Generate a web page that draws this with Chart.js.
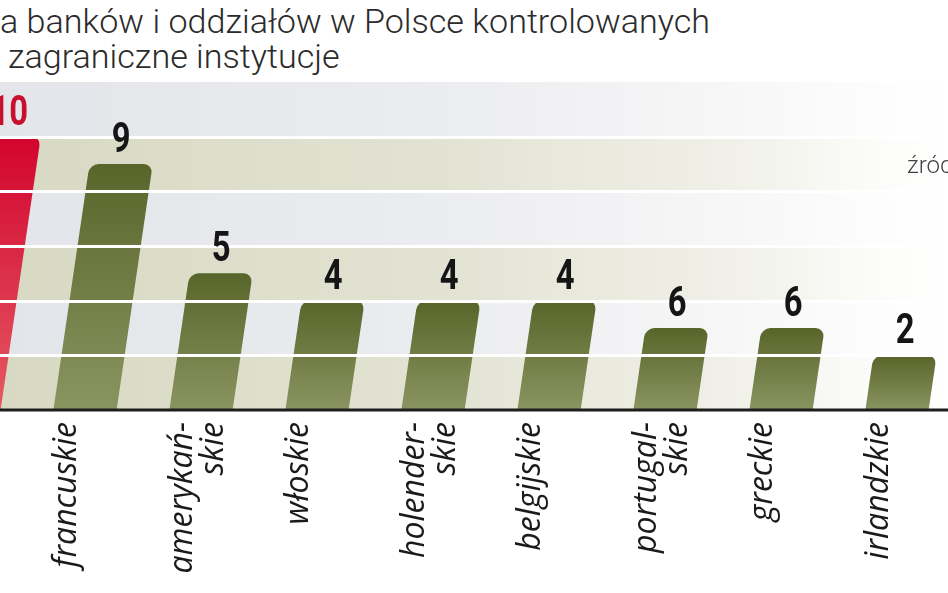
<!DOCTYPE html>
<html>
<head>
<meta charset="utf-8">
<script src="https://cdn.jsdelivr.net/npm/chart.js@4.4.1/dist/chart.umd.min.js"></script>
<style>
  html, body { margin: 0; padding: 0; background: #fff; }
  body { width: 948px; height: 593px; overflow: hidden; position: relative; }
  .title { position: absolute; font-family: Roboto, sans-serif; font-weight: 300; font-size: 34px;
           line-height: 34px; color: #2b2b2b; white-space: nowrap; transform-origin: 0 0; }
  #src { position: absolute; left: 907px; top: 153px; font-family: Roboto, sans-serif; font-weight: 300;
         font-size: 24px; line-height: 24px; color: #444; white-space: nowrap; }
  #wrap { position: absolute; left: -89px; top: 0; width: 1044px; height: 593px; }
</style>
</head>
<body>
<div class="title" id="t1">a banków i oddziałów w Polsce kontrolowanych</div>
<div class="title" id="t2">z zagraniczne instytucje</div>
<div id="wrap"><canvas id="bankChart"></canvas></div>
<div id="src">źródło</div>
<script>
// Categories (first one is cut off at the left edge)
const categories = ['niemieckie', 'francuskie', ['amerykań-', 'skie'], 'włoskie', ['holender-', 'skie'],
  'belgijskie', ['portugal-', 'skie'], 'greckie', 'irlandzkie'];
// bar heights
const barHeights = [5.0, 4.5, 2.5, 2.0, 2.0, 2.0, 1.5, 1.5, 1.0];
// numbers printed above the bars
const barLabels = ['10', '9', '5', '4', '4', '4', '6', '6', '2'];
const bandTicks = [0, 1, 2, 3, 4, 5, 6];

const SKEW = 0.147;

// Title: condensed look by horizontal scaling
const t1 = document.getElementById('t1');
const t2 = document.getElementById('t2');
t1.style.top = '4px';
t2.style.top = '39px';
const sx = 710 / t1.getBoundingClientRect().width;
t1.style.left = '0px';
t1.style.transform = `scaleX(${sx})`;
const w2 = t2.getBoundingClientRect().width * sx;
t2.style.left = (340 - w2) + 'px';
t2.style.transform = `scaleX(${sx})`;
const src = document.getElementById('src');
src.style.transform = `scaleX(${sx})`;
src.style.transformOrigin = '0 0';

function barFill(c) {
  const chart = c.chart;
  if (!chart.chartArea) return '#66702f';
  const y = chart.scales.y;
  const top = y.getPixelForValue(barHeights[c.dataIndex]);
  const base = y.getPixelForValue(0);
  const g = chart.ctx.createLinearGradient(0, top, 0, base);
  if (c.dataIndex === 0) {
    g.addColorStop(0, '#d3042f');
    g.addColorStop(1, '#e45a62');
  } else {
    g.addColorStop(0, '#58652a');
    g.addColorStop(1, '#8a9460');
  }
  return g;
}

const decor = {
  id: 'decor',
  beforeDraw(chart) {
    const { ctx, chartArea } = chart;
    const y = chart.scales.y;
    const off = 89;
    for (let i = 0; i < bandTicks.length - 1; i++) {
      const yb = y.getPixelForValue(bandTicks[i]);
      const yt = y.getPixelForValue(bandTicks[i + 1]);
      const g = ctx.createLinearGradient(off, 0, off + 948, 0);
      if (i % 2 === 0) {
        g.addColorStop(0, '#d8d9c3');
        g.addColorStop(0.45, '#e2e2d2');
        g.addColorStop(0.75, '#efefe7');
        g.addColorStop(0.93, '#fcfcfa');
        g.addColorStop(1, '#ffffff');
      } else {
        g.addColorStop(0, '#e3e5ea');
        g.addColorStop(0.45, '#ebecef');
        g.addColorStop(0.75, '#f6f6f7');
        g.addColorStop(0.93, '#fdfdfd');
        g.addColorStop(1, '#ffffff');
      }
      ctx.fillStyle = g;
      ctx.fillRect(chartArea.left, yt, chartArea.right - chartArea.left, yb - yt);
    }
  },
  beforeDatasetsDraw(chart) {
    const { ctx } = chart;
    const base = chart.scales.y.getPixelForValue(0);
    ctx.save();
    ctx.transform(1, 0, -SKEW, 1, SKEW * base, 0);
  },
  afterDatasetsDraw(chart) {
    const { ctx, chartArea } = chart;
    ctx.restore();
    const y = chart.scales.y;
    const base = y.getPixelForValue(0);
    // white lines across bands and bars
    ctx.save();
    ctx.strokeStyle = '#ffffff';
    ctx.lineWidth = 3;
    for (let i = 1; i < bandTicks.length - 1; i++) {
      const py = Math.round(y.getPixelForValue(bandTicks[i])) + 0.5;
      ctx.beginPath();
      ctx.moveTo(chartArea.left, py);
      ctx.lineTo(chartArea.right, py);
      ctx.stroke();
    }
    // baseline
    ctx.strokeStyle = '#1e1e1e';
    ctx.lineWidth = 3;
    ctx.beginPath();
    ctx.moveTo(chartArea.left, base);
    ctx.lineTo(chartArea.right, base);
    ctx.stroke();
    // numbers above bars
    const meta = chart.getDatasetMeta(0);
    ctx.textAlign = 'center';
    ctx.textBaseline = 'alphabetic';
    ctx.font = 'bold 42px Roboto, sans-serif';
    meta.data.forEach((bar, i) => {
      const top = bar.y;
      const cx = bar.x + SKEW * (base - top);
      ctx.save();
      ctx.translate(cx, top - 12);
      ctx.scale(0.78, 1);
      ctx.fillStyle = i === 0 ? '#c8102e' : '#151515';
      ctx.fillText(barLabels[i], 0, 0);
      ctx.restore();
    });
    ctx.restore();
  }
};

new Chart(document.getElementById('bankChart'), {
  type: 'bar',
  data: {
    labels: categories,
    datasets: [{
      data: barHeights,
      backgroundColor: barFill,
      borderSkipped: 'bottom',
      borderRadius: { topLeft: 9, topRight: 9 },
      categoryPercentage: 1,
      barPercentage: 0.545,
      clip: false
    }]
  },
  options: {
    responsive: true,
    maintainAspectRatio: false,
    animation: false,
    layout: { padding: { top: 82, left: 0, right: 0, bottom: 0 } },
    plugins: { legend: { display: false }, tooltip: { enabled: false } },
    scales: {
      x: {
        grid: { display: false },
        border: { display: false },
        ticks: {
          maxRotation: 90,
          minRotation: 90,
          padding: 4,
          labelOffset: -18,
          color: '#1a1a1a',
          font: { family: 'Open Sans', style: 'italic', size: 32, lineHeight: 0.95 }
        },
        afterFit(axis) { axis.height = 183; }
      },
      y: {
        display: false,
        min: 0,
        max: 6
      }
    }
  },
  plugins: [decor]
});
</script>
</body>
</html>
